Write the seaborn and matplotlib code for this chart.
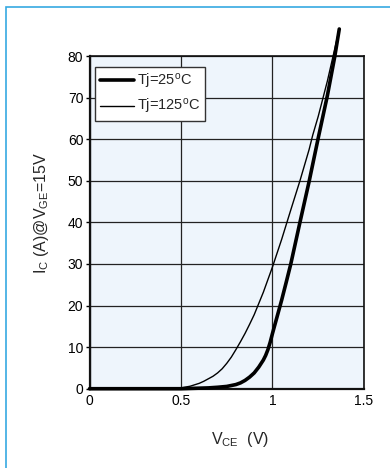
import pandas as pd
import matplotlib
matplotlib.use('Agg')
import matplotlib.pyplot as plt
from matplotlib.patches import Rectangle
import seaborn as sns

# Charakterystyka wyjściowa IGBT, VGE = 15 V
vce_25 = [0, 0.5, 0.65, 0.7, 0.75, 0.8, 0.825, 0.85, 0.875, 0.9, 0.925, 0.95,
          0.9625, 0.975, 0.9875, 1.0, 1.0125, 1.025, 1.05, 1.075,
          1.1, 1.15, 1.2, 1.25, 1.3, 1.34, 1.365]
ic_25 = [0, 0, 0.2, 0.35, 0.55, 1.0, 1.4, 2.0, 2.8, 3.8, 5.2, 6.9,
         8.0, 9.4, 11.2, 13.3, 15.3, 17.3, 21.3, 25.6,
         30, 40, 49.8, 60.3, 70.5, 79.8, 86.5]

vce_125 = [0, 0.3, 0.5, 0.55, 0.6, 0.625, 0.65, 0.675, 0.7, 0.725, 0.75, 0.775,
           0.8, 0.825, 0.85, 0.875, 0.9, 0.95, 1.0, 1.05, 1.1, 1.15, 1.2,
           1.22, 1.25, 1.3, 1.365]
ic_125 = [0, 0.1, 0.2, 0.6, 1.3, 1.8, 2.4, 3.0, 3.8, 4.8, 6.1, 7.6,
          9.4, 11.3, 13.3, 15.5, 17.8, 23.2, 29.3, 35.9, 43, 50, 57.5,
          61, 65.5, 74, 86.5]

labels = ['Tj=25$^{\\mathrm{o}}$C', 'Tj=125$^{\\mathrm{o}}$C']
x_ticks = [0, 0.5, 1, 1.5]
x_ticklabels = ['0', '0.5', '1', '1.5']
y_ticks = [0, 10, 20, 30, 40, 50, 60, 70, 80]

sns.set_theme(style='white')
plt.rcParams['font.family'] = ['Liberation Sans', 'DejaVu Sans']
plt.rcParams['mathtext.fontset'] = 'custom'
plt.rcParams['mathtext.rm'] = 'Liberation Sans'
plt.rcParams['mathtext.it'] = 'Liberation Sans:italic'

fig = plt.figure(figsize=(3.9, 4.68), dpi=100)
ax = fig.add_axes([0.2295, 0.1694, 0.7038, 0.7109])
ax.set_facecolor('#eef5fc')

# ramka wokół całego rysunku
fig.patches.append(Rectangle((0.0146, -0.05), 1.2, 1.0344, transform=fig.transFigure,
                             fill=False, edgecolor='#36a9e1', linewidth=1.2))

df25 = pd.DataFrame({'VCE': vce_25, 'IC': ic_25})
df125 = pd.DataFrame({'VCE': vce_125, 'IC': ic_125})
sns.lineplot(data=df25, x='VCE', y='IC', ax=ax, color='black', linewidth=2.6,
             label=labels[0], clip_on=False, zorder=4)
sns.lineplot(data=df125, x='VCE', y='IC', ax=ax, color='black', linewidth=1.0,
             label=labels[1], clip_on=False, zorder=4)

ax.set_xlim(0, 1.5)
ax.set_ylim(0, 80)
ax.set_xticks(x_ticks)
ax.set_xticklabels(x_ticklabels)
ax.set_yticks(y_ticks)
ax.grid(True, color='#222222', linewidth=0.9)
ax.set_axisbelow(True)
for s in ax.spines.values():
    s.set_color('#111111')
    s.set_linewidth(1.2)
ax.spines['left'].set_linewidth(1.6)
ax.spines['bottom'].set_linewidth(1.6)

ax.tick_params(axis='x', length=0, pad=3.5, labelsize=10, colors='black')
ax.tick_params(axis='y', left=True, length=3, width=1, pad=1.5, labelsize=10, colors='black')

ax.set_xlabel('V$_{\\mathrm{CE}}$  (V)', fontsize=11.5)
ax.xaxis.set_label_coords(0.548, -0.125)
ax.set_ylabel('I$_{\\mathrm{C}}$ (A)@V$_{\\mathrm{GE}}$=15V', fontsize=11.5)
ax.yaxis.set_label_coords(-0.14, 0.53)

leg = ax.legend(loc='upper left', bbox_to_anchor=(0.02, 0.968), borderaxespad=0,
                fontsize=10.5, fancybox=False, framealpha=1, edgecolor='#333333',
                handlelength=2.3, handletextpad=0.2, labelspacing=0.45, borderpad=0.35)
leg.get_frame().set_linewidth(1.0)

plt.savefig('out.png', dpi=100)
